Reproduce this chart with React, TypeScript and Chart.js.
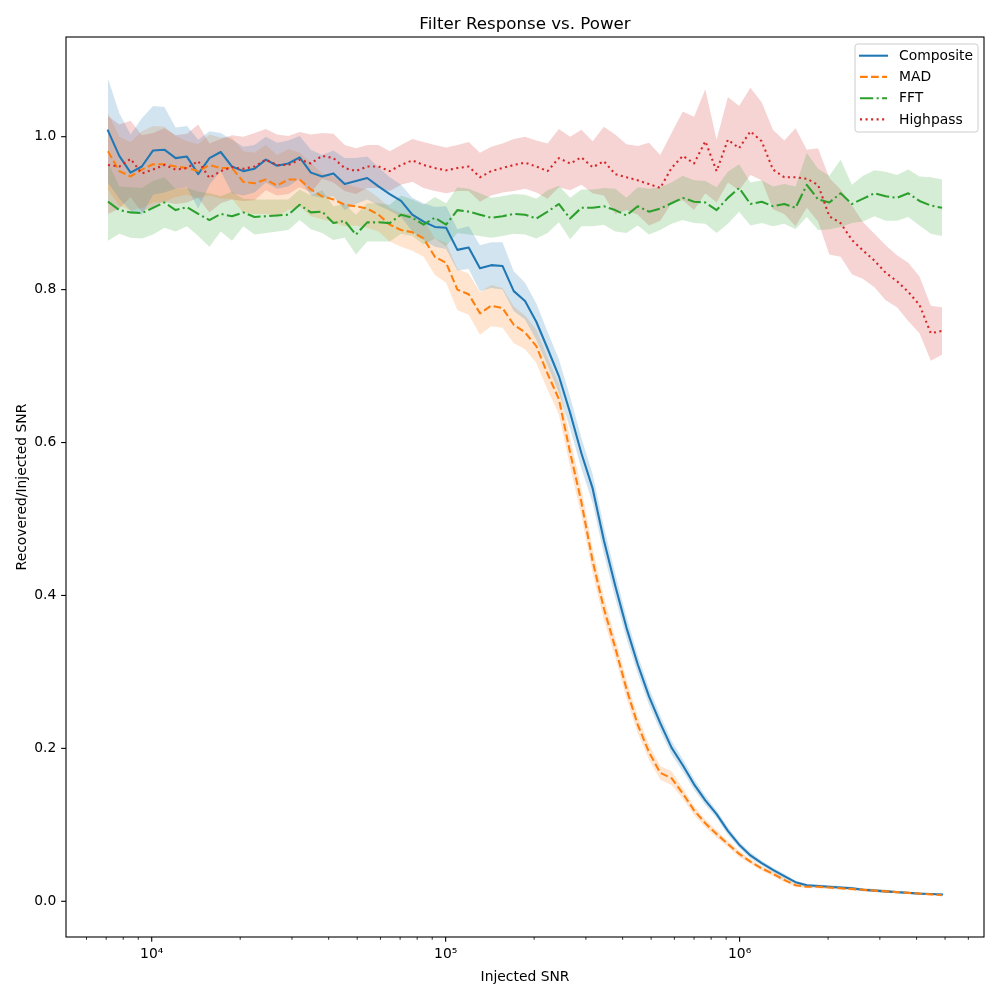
import React, { useEffect, useRef } from "react";
import { Chart, registerables } from "chart.js";

Chart.register(...registerables);

// Injected SNR (x), log-spaced
const snr = [
  7100, 7757, 8474, 9255, 10108, 11043, 12062, 13176, 14392, 15720,
  17170, 18757, 20490, 22380, 24440, 26700, 29160, 31860, 34800, 38000,
  41520, 45340, 49530, 54100, 59090, 64540, 70500, 77010, 84120, 91880,
  100360, 109620, 119750, 130820, 142890, 156080, 170480, 186230, 203410, 222190,
  242700, 265100, 289580, 316240, 345430, 377310, 412130, 450160, 491720, 537130,
  586700, 640860, 699960, 764590, 835160, 912240, 996440, 1088400, 1188900, 1298600,
  1418700, 1549700, 1692600, 1848700, 2019300, 2206000, 2409700, 2632100, 2875100, 3140500,
  3430400, 3747100, 4092900, 4470800, 4883600,
];

const composite = [
  1.008, 0.975, 0.953, 0.961, 0.982, 0.983, 0.972, 0.974, 0.951, 0.972,
  0.980, 0.961, 0.955, 0.958, 0.970, 0.962, 0.965, 0.973, 0.953, 0.948,
  0.952, 0.938, 0.942, 0.946, 0.935, 0.925, 0.916, 0.898, 0.889, 0.882,
  0.881, 0.852, 0.855, 0.828, 0.832, 0.831, 0.798, 0.785, 0.758, 0.723,
  0.687, 0.639, 0.586, 0.540, 0.472, 0.413, 0.358, 0.310, 0.268, 0.233,
  0.201, 0.178, 0.153, 0.132, 0.114, 0.092, 0.074, 0.060, 0.050, 0.041,
  0.033, 0.025, 0.021, 0.020, 0.019, 0.018, 0.017, 0.015, 0.014, 0.013,
  0.012, 0.011, 0.010, 0.0095, 0.009,
];
const compositeErr = [
  0.068, 0.056, 0.050, 0.063, 0.058, 0.056, 0.040, 0.040, 0.045, 0.035,
  0.025, 0.035, 0.032, 0.031, 0.030, 0.030, 0.030, 0.028, 0.030, 0.028,
  0.030, 0.034, 0.030, 0.028, 0.025, 0.022, 0.021, 0.022, 0.024, 0.026,
  0.028, 0.027, 0.028, 0.030, 0.030, 0.031, 0.026, 0.024, 0.024, 0.022,
  0.022, 0.021, 0.020, 0.019, 0.018, 0.016, 0.014, 0.012, 0.011, 0.010,
  0.009, 0.008, 0.007, 0.006, 0.005, 0.005, 0.004, 0.004, 0.003, 0.003,
  0.003, 0.002, 0.002, 0.002, 0.002, 0.002, 0.002, 0.002, 0.002, 0.002,
  0.001, 0.001, 0.001, 0.001, 0.001,
];

const mad = [
  0.981, 0.955, 0.948, 0.957, 0.964, 0.964, 0.961, 0.959, 0.955, 0.963,
  0.959, 0.959, 0.941, 0.939, 0.944, 0.936, 0.944, 0.944, 0.931, 0.922,
  0.918, 0.911, 0.909, 0.906, 0.898, 0.885, 0.878, 0.875, 0.867, 0.843,
  0.835, 0.800, 0.794, 0.769, 0.779, 0.776, 0.754, 0.744, 0.726, 0.690,
  0.657, 0.587, 0.522, 0.445, 0.383, 0.332, 0.278, 0.231, 0.195, 0.168,
  0.161, 0.141, 0.119, 0.102, 0.088, 0.075, 0.062, 0.052, 0.043, 0.036,
  0.028, 0.021, 0.019, 0.019, 0.018, 0.017, 0.016, 0.015, 0.014, 0.013,
  0.012, 0.011, 0.010, 0.009, 0.008,
];
const madErr = [
  0.050, 0.045, 0.045, 0.050, 0.050, 0.049, 0.040, 0.035, 0.035, 0.040,
  0.040, 0.040, 0.040, 0.040, 0.045, 0.040, 0.040, 0.035, 0.035, 0.030,
  0.030, 0.028, 0.025, 0.025, 0.022, 0.022, 0.022, 0.024, 0.024, 0.024,
  0.026, 0.027, 0.027, 0.028, 0.027, 0.026, 0.024, 0.022, 0.022, 0.021,
  0.020, 0.019, 0.018, 0.016, 0.015, 0.013, 0.012, 0.011, 0.010, 0.009,
  0.009, 0.007, 0.006, 0.005, 0.005, 0.004, 0.004, 0.003, 0.003, 0.003,
  0.003, 0.002, 0.002, 0.002, 0.002, 0.002, 0.002, 0.002, 0.002, 0.002,
  0.001, 0.001, 0.001, 0.001, 0.001,
];

const fft = [
  0.915, 0.904, 0.901, 0.900, 0.907, 0.914, 0.904, 0.908, 0.899, 0.891,
  0.899, 0.896, 0.901, 0.895, 0.896, 0.897, 0.898, 0.911, 0.901, 0.902,
  0.887, 0.890, 0.872, 0.888, 0.888, 0.887, 0.898, 0.894, 0.885, 0.894,
  0.885, 0.904, 0.902, 0.898, 0.894, 0.896, 0.899, 0.898, 0.893, 0.902,
  0.912, 0.893, 0.907, 0.907, 0.909, 0.904, 0.897, 0.909, 0.902, 0.906,
  0.913, 0.920, 0.915, 0.914, 0.904, 0.920, 0.933, 0.912, 0.915, 0.909,
  0.912, 0.907, 0.937, 0.918, 0.914, 0.926, 0.912, 0.919, 0.926, 0.922,
  0.920, 0.926, 0.916, 0.910, 0.907,
];
const fftErr = [
  0.051, 0.031, 0.033, 0.033, 0.035, 0.033, 0.028, 0.025, 0.029, 0.035,
  0.023, 0.032, 0.018, 0.023, 0.022, 0.021, 0.020, 0.020, 0.022, 0.028,
  0.022, 0.022, 0.026, 0.025, 0.025, 0.024, 0.025, 0.024, 0.026, 0.027,
  0.028, 0.030, 0.030, 0.028, 0.026, 0.026, 0.026, 0.026, 0.026, 0.028,
  0.024, 0.027, 0.024, 0.024, 0.024, 0.028, 0.023, 0.025, 0.030, 0.028,
  0.027, 0.029, 0.028, 0.028, 0.030, 0.034, 0.031, 0.028, 0.028, 0.026,
  0.026, 0.028, 0.042, 0.040, 0.035, 0.044, 0.025, 0.030, 0.030, 0.032,
  0.030, 0.031, 0.032, 0.037, 0.037,
];

const highpass = [
  0.963, 0.961, 0.971, 0.952, 0.957, 0.963, 0.957, 0.959, 0.968, 0.946,
  0.955, 0.960, 0.958, 0.961, 0.970, 0.963, 0.963, 0.970, 0.965, 0.975,
  0.972, 0.959, 0.955, 0.961, 0.961, 0.955, 0.963, 0.969, 0.963, 0.959,
  0.956, 0.959, 0.961, 0.947, 0.955, 0.959, 0.963, 0.966, 0.961, 0.955,
  0.972, 0.965, 0.973, 0.960, 0.968, 0.951, 0.947, 0.943, 0.938, 0.933,
  0.959, 0.975, 0.965, 0.994, 0.955, 0.996, 0.985, 1.007, 0.994, 0.957,
  0.947, 0.947, 0.945, 0.937, 0.896, 0.887, 0.865, 0.851, 0.838, 0.822,
  0.811, 0.797, 0.780, 0.743, 0.746,
];
const highpassErr = [
  0.064, 0.055, 0.050, 0.050, 0.048, 0.048, 0.045, 0.045, 0.048, 0.045,
  0.042, 0.042, 0.042, 0.044, 0.040, 0.040, 0.038, 0.036, 0.038, 0.030,
  0.032, 0.030, 0.030, 0.028, 0.028, 0.026, 0.026, 0.028, 0.030, 0.030,
  0.030, 0.030, 0.032, 0.032, 0.032, 0.032, 0.034, 0.034, 0.034, 0.036,
  0.038, 0.035, 0.036, 0.034, 0.045, 0.052, 0.043, 0.045, 0.054, 0.043,
  0.046, 0.058, 0.061, 0.068, 0.041, 0.056, 0.055, 0.057, 0.051, 0.052,
  0.048, 0.064, 0.038, 0.048, 0.050, 0.044, 0.045, 0.037, 0.035, 0.036,
  0.034, 0.038, 0.037, 0.036, 0.031,
];

const seriesLabels = ["Composite", "MAD", "FFT", "Highpass"];
const seriesMeans = [composite, mad, fft, highpass];
const seriesErrs = [compositeErr, madErr, fftErr, highpassErr];
const seriesColors = ["#1f77b4", "#ff7f0e", "#2ca02c", "#d62728"];
const seriesFills = [
  "rgba(31,119,180,0.2)",
  "rgba(255,127,14,0.2)",
  "rgba(44,160,44,0.2)",
  "rgba(214,39,40,0.2)",
];
const LW = 2.08;
const seriesDashes: number[][] = [[], [7.7, 3.33], [13.3, 3.33, 2.08, 3.33], [2.08, 3.44]];

const yTicks = [0.0, 0.2, 0.4, 0.6, 0.8, 1.0];
const xTicks = [1e4, 1e5, 1e6];
const xTickLabels = ["10\u2074", "10\u2075", "10\u2076"];
const xMinorTicks = [
  6e3, 7e3, 8e3, 9e3,
  2e4, 3e4, 4e4, 5e4, 6e4, 7e4, 8e4, 9e4,
  2e5, 3e5, 4e5, 5e5, 6e5, 7e5, 8e5, 9e5,
  2e6, 3e6, 4e6, 5e6, 6e6,
];

const TITLE = "Filter Response vs. Power";
const XLABEL = "Injected SNR";
const YLABEL = "Recovered/Injected SNR";
const FONT = "'DejaVu Sans', sans-serif";

const decorPlugin = {
  id: "decor",
  afterDraw(chart: any) {
    const { ctx, chartArea: a, scales } = chart;
    const x = scales.x;
    const y = scales.y;
    ctx.save();
    ctx.strokeStyle = "#000";
    ctx.setLineDash([]);
    // ticks
    ctx.lineWidth = 1.1;
    xTicks.forEach((v) => {
      const px = x.getPixelForValue(v);
      ctx.beginPath();
      ctx.moveTo(px, a.bottom);
      ctx.lineTo(px, a.bottom + 4.86);
      ctx.stroke();
    });
    yTicks.forEach((v) => {
      const py = y.getPixelForValue(v);
      ctx.beginPath();
      ctx.moveTo(a.left - 4.86, py);
      ctx.lineTo(a.left, py);
      ctx.stroke();
    });
    ctx.lineWidth = 0.83;
    xMinorTicks.forEach((v) => {
      const px = x.getPixelForValue(v);
      ctx.beginPath();
      ctx.moveTo(px, a.bottom);
      ctx.lineTo(px, a.bottom + 2.78);
      ctx.stroke();
    });
    // frame
    ctx.lineWidth = 1.1;
    ctx.strokeRect(a.left, a.top, a.right - a.left, a.bottom - a.top);

    // texts
    ctx.fillStyle = "#000";
    ctx.textAlign = "center";
    ctx.textBaseline = "alphabetic";
    const cx = (a.left + a.right) / 2;
    ctx.font = `16.67px ${FONT}`;
    ctx.fillText(TITLE, cx, a.top - 8.4);
    ctx.font = `13.89px ${FONT}`;
    ctx.fillText(XLABEL, cx, 981);
    ctx.save();
    ctx.translate(25.5, (a.top + a.bottom) / 2);
    ctx.rotate(-Math.PI / 2);
    ctx.fillText(YLABEL, 0, 0);
    ctx.restore();

    // legend
    const bx = 855, by = 44, bw = 123, bh = 88, r = 2.8;
    ctx.beginPath();
    ctx.moveTo(bx + r, by);
    ctx.lineTo(bx + bw - r, by);
    ctx.quadraticCurveTo(bx + bw, by, bx + bw, by + r);
    ctx.lineTo(bx + bw, by + bh - r);
    ctx.quadraticCurveTo(bx + bw, by + bh, bx + bw - r, by + bh);
    ctx.lineTo(bx + r, by + bh);
    ctx.quadraticCurveTo(bx, by + bh, bx, by + bh - r);
    ctx.lineTo(bx, by + r);
    ctx.quadraticCurveTo(bx, by, bx + r, by);
    ctx.closePath();
    ctx.fillStyle = "rgba(255,255,255,0.8)";
    ctx.fill();
    ctx.strokeStyle = "#cccccc";
    ctx.lineWidth = 1;
    ctx.stroke();

    const rows = [55.7, 76.9, 98.2, 119.4];
    ctx.textAlign = "left";
    ctx.textBaseline = "middle";
    ctx.font = `13.89px ${FONT}`;
    seriesLabels.forEach((lab, k) => {
      const ry = rows[k];
      ctx.strokeStyle = seriesColors[k];
      ctx.lineWidth = LW;
      ctx.setLineDash(seriesDashes[k]);
      ctx.lineCap = seriesDashes[k].length ? "butt" : "square";
      ctx.beginPath();
      ctx.moveTo(860, ry);
      ctx.lineTo(887, ry);
      ctx.stroke();
      ctx.setLineDash([]);
      ctx.fillStyle = "#000";
      ctx.fillText(lab, 899, ry + 0.5);
    });
    ctx.restore();
  },
};

export default function App() {
  const ref = useRef<HTMLCanvasElement | null>(null);

  useEffect(() => {
    if (!ref.current) return;
    const datasets: any[] = [];
    seriesLabels.forEach((lab, k) => {
      datasets.push({
        label: lab,
        data: seriesMeans[k].map((m, i) => ({ x: snr[i], y: m })),
        borderColor: seriesColors[k],
        borderWidth: LW,
        borderDash: seriesDashes[k],
        borderCapStyle: seriesDashes[k].length ? "butt" : "square",
        borderJoinStyle: "round",
        pointRadius: 0,
        pointHoverRadius: 0,
        tension: 0,
        fill: false,
        order: 4 - k,
      });
    });
    seriesLabels.forEach((lab, k) => {
      const loIndex = datasets.length;
      datasets.push({
        label: lab + " lo",
        data: seriesMeans[k].map((m, i) => ({ x: snr[i], y: m - seriesErrs[k][i] })),
        borderColor: "rgba(0,0,0,0)",
        borderWidth: 0,
        pointRadius: 0,
        pointHoverRadius: 0,
        tension: 0,
        fill: false,
        order: 20,
      });
      datasets.push({
        label: lab + " hi",
        data: seriesMeans[k].map((m, i) => ({ x: snr[i], y: m + seriesErrs[k][i] })),
        borderColor: "rgba(0,0,0,0)",
        borderWidth: 0,
        backgroundColor: seriesFills[k],
        pointRadius: 0,
        pointHoverRadius: 0,
        tension: 0,
        fill: loIndex,
        order: 20,
      });
    });

    const tickFont = { family: FONT, size: 13.89 };
    const chart = new Chart(ref.current, {
      type: "line",
      data: { datasets },
      plugins: [decorPlugin],
      options: {
        responsive: false,
        animation: false,
        devicePixelRatio: 1,
        events: [],
        layout: { padding: { left: 0, top: 37, right: 16, bottom: 0 } },
        plugins: {
          legend: { display: false },
          title: { display: false },
          tooltip: { enabled: false },
          filler: { drawTime: "beforeDatasetsDraw", propagate: false },
        },
        scales: {
          x: {
            type: "logarithmic",
            position: "bottom",
            min: 5110,
            max: 6783000,
            grid: { display: false, drawTicks: false },
            border: { display: false },
            afterBuildTicks: (s: any) => {
              s.ticks = xTicks.map((v) => ({ value: v, major: true }));
            },
            afterFit: (s: any) => {
              s.height = 63;
            },
            ticks: {
              autoSkip: false,
              maxRotation: 0,
              minRotation: 0,
              padding: 9,
              color: "#000",
              font: tickFont,
              callback: (v: any) => {
                const i = xTicks.indexOf(Number(v));
                return i >= 0 ? xTickLabels[i] : "";
              },
            },
          },
          y: {
            type: "linear",
            min: -0.0467,
            max: 1.1304,
            grid: { display: false, drawTicks: false },
            border: { display: false },
            afterBuildTicks: (s: any) => {
              s.ticks = yTicks.map((v) => ({ value: v }));
            },
            afterFit: (s: any) => {
              s.width = 66;
            },
            ticks: {
              autoSkip: false,
              padding: 9.7,
              color: "#000",
              font: tickFont,
              callback: (v: any) => Number(v).toFixed(1),
            },
          },
        },
      } as any,
    });
    return () => chart.destroy();
  }, []);

  return (
    <div style={{ position: "fixed", left: 0, top: 0, width: 1000, height: 1000, background: "#fff" }}>
      <canvas ref={ref} width={1000} height={1000} style={{ display: "block", width: 1000, height: 1000 }} />
    </div>
  );
}
